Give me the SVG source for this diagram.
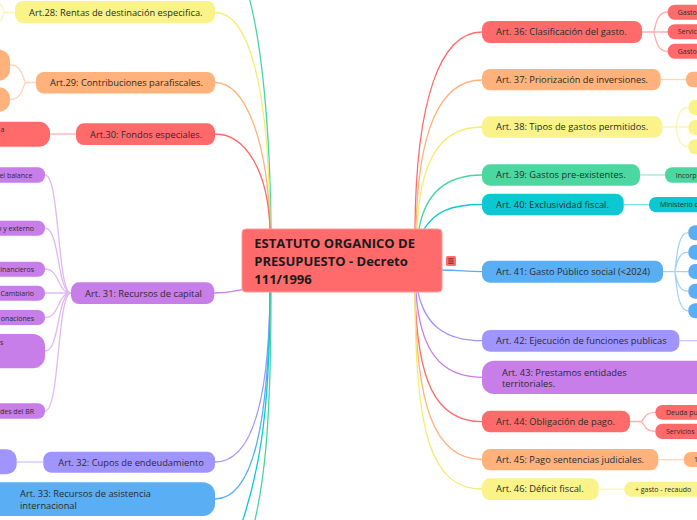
<svg xmlns="http://www.w3.org/2000/svg" width="697" height="520" viewBox="0 0 697 520">
<style>
.t{font-family:"Open Sans","Noto Sans","Liberation Sans",sans-serif;font-size:9.3px;fill:#2b2b2b}
.s{font-family:"Open Sans","Noto Sans","Liberation Sans",sans-serif;font-size:7px;fill:#2b2b2b}
.h{font-family:"Open Sans","Noto Sans","Liberation Sans",sans-serif;font-size:13px;font-weight:bold;fill:#1a1a1a}
.c{fill:none;stroke-width:1.3}
.sc{fill:none;stroke-width:1.3;stroke-opacity:0.55}
.red{fill:#ff6b6b}.ora{fill:#ffb27b}.yel{fill:#f9f38a}.grn{fill:#4bd8a0}.tea{fill:#0cc8d2}.blu{fill:#5aaef3}.vio{fill:#a095ff}.pur{fill:#c77ee8}
.kred{stroke:#ff6b6b}.kora{stroke:#ffb27b}.kyel{stroke:#f5ec74}.kgrn{stroke:#45d6a0}.ktea{stroke:#0cc8d2}.kblu{stroke:#5aaef3}.kvio{stroke:#a095ff}.kpur{stroke:#c77ee8}
</style>
<rect width="697" height="520" fill="#ffffff"/>
<g id="connectors">
  <!-- center to left top -->
  <path class="c kgrn" d="M271,229 C270,130 262,40 247,-10"/>
  <path class="c kyel" d="M215,12.5 C250,12.5 269,90 270,229"/>
  <path class="c kora" d="M215,82.5 C245,82.5 268,140 270,229"/>
  <path class="c kred" d="M215,134 C245,134 268,170 270,229"/>
  <path class="c kpur" d="M214,293 C240,293 255,285 275,280"/>
  <!-- center to left bottom -->
  <path class="c kvio" d="M270,292 C269,400 252,462 215,462"/>
  <path class="c kblu" d="M270,292 C269,420 254,499 215,499"/>
  <path class="c ktea" d="M270,292 C270,420 258,480 236,540"/>
  <path class="c kgrn" d="M271,292 C271,430 264,490 250,540"/>
  <!-- center to right top -->
  <path class="c kred" d="M415,229 C416,100 440,32 482,32"/>
  <path class="c kora" d="M416,229 C418,130 440,80 482,80"/>
  <path class="c kyel" d="M417,229 C420,160 440,127 482,127"/>
  <path class="c kgrn" d="M419,229 C425,195 445,175 482,175"/>
  <path class="c ktea" d="M424,229 C435,212 450,204.5 482,204.5"/>
  <path class="c kblu" d="M440,270 C460,270 465,271.7 482,271.7"/>
  <!-- center to right bottom -->
  <path class="c kvio" d="M418,292 C425,325 445,340.7 482,340.7"/>
  <path class="c kpur" d="M416,292 C420,350 440,377.3 482,377.3"/>
  <path class="c kred" d="M415,292 C417,380 435,421.7 482,421.7"/>
  <path class="c kora" d="M415,292 C416,400 432,459.5 482,459.5"/>
  <path class="c kyel" d="M415,292 C415,430 430,489 482,489"/>
  <!-- left sub connectors -->
  <path class="sc kyel" d="M15,12.5 L5,12.5 M5,12.5 C3,12.5 3,3 -3,2 M5,12.5 C3,12.5 3,22 -3,23"/>
  <path class="sc kora" d="M36,82.5 L26,82.5 M26,82.5 C23,82.5 24,65 10,65 M26,82.5 C23,82.5 24,99.5 10,99.5"/>
  <path class="sc kred" d="M50,134 L76,134"/>
  <path class="sc kpur" d="M71,293 C57,293 60,175 45,175 M71,293 C57,293 60,228 45,228 M71,293 C57,293 60,269 45,269 M71,293 L45,293 M71,293 C57,293 60,317.5 45,317.5 M71,293 C57,293 60,351 45,351 M71,293 C57,293 60,411 45,411"/>
  <path class="sc kvio" d="M17,462 L43,462"/>
  <!-- right sub connectors -->
  <path class="sc kred" d="M642,32 L668,32 M653,32 C656,32 654,12 668,12 M653,32 C656,32 654,51.4 668,51.4"/>
  <path class="sc kora" d="M660.7,79.5 L686,79.5"/>
  <path class="sc kyel" d="M662.3,127 L688.3,127 M675,127 C678,127 676,107.5 688.3,107.5 M675,127 C678,127 676,146.8 688.3,146.8"/>
  <path class="sc kgrn" d="M640,175 L665,175"/>
  <path class="sc ktea" d="M623.7,204.6 L649,204.6"/>
  <path class="sc kblu" d="M663,271.7 L688.3,271.7 M674,271.7 C677,271.7 675,232.7 688.3,232.7 M674,271.7 C677,271.7 675,252.2 688.3,252.2 M674,271.7 C677,271.7 675,291.2 688.3,291.2 M674,271.7 C677,271.7 675,310.8 688.3,310.8"/>
  <path class="sc kvio" d="M679.3,340.7 L697,340.7"/>
  <path class="sc kred" d="M630,421.5 L641,421.5 M641,421.5 C644,421.5 643,412.3 655.3,412.3 M641,421.5 C644,421.5 643,431.3 655.3,431.3"/>
  <path class="sc kora" d="M658.3,459.7 L683.7,459.7"/>
  <path class="sc kyel" d="M598.7,489.2 L624.3,489.2"/>
</g>

<g id="center">
  <rect x="242" y="229" width="200" height="63" rx="4" fill="#ff6b6b" stroke="#ff9a9a" stroke-width="1"/>
  <text class="h" x="254.3" y="248.3">ESTATUTO ORGANICO DE</text>
  <text class="h" x="254.3" y="266.2">PRESUPUESTO - Decreto</text>
  <text class="h" x="254.3" y="284.2">111/1996</text>
</g>
<g id="center-icon">
  <rect x="446" y="256" width="10" height="10" rx="1.5" fill="#ff6b6b"/>
  <path d="M448.3,258.8 H453.7 M448.3,261 H453.7 M448.3,263.2 H453.7" stroke="#5a1a1a" stroke-width="0.9"/>
</g>

<!-- left nodes -->
<g id="n28"><rect class="yel" x="15" y="1" width="200" height="22" rx="8"/><text class="t" x="29" y="15.5">Art.28: Rentas de destinación especifica.</text></g>
<g id="n29"><rect class="ora" x="36" y="72" width="179" height="21.5" rx="8"/><text class="t" x="50" y="86">Art.29: Contribuciones parafiscales.</text></g>
<g id="n29a"><rect class="ora" x="-30" y="49.3" width="40" height="31.7" rx="12"/></g>
<g id="n29b"><rect class="ora" x="-30" y="87.3" width="40" height="24.4" rx="11"/></g>
<g id="n30"><rect class="red" x="76" y="123.3" width="139" height="21.7" rx="8"/><text class="t" x="90" y="137.5">Art.30: Fondos especiales.</text></g>
<g id="n30a"><rect class="red" x="-60" y="121.7" width="110" height="25" rx="11"/><text class="s" x="0.5" y="131.7">a</text></g>
<g id="n31"><rect class="pur" x="71" y="282.3" width="143.3" height="21.7" rx="8"/><text class="t" x="85" y="296.5">Art. 31: Recursos de capital</text></g>
<g id="n31a"><rect class="pur" x="-40" y="167.3" width="85" height="15.4" rx="7"/><text class="s" x="32.3" y="177.6" text-anchor="end">el balance</text></g>
<g id="n31b"><rect class="pur" x="-40" y="220.7" width="85" height="15" rx="7"/><text class="s" x="34" y="231" text-anchor="end">o y externo</text></g>
<g id="n31c"><rect class="pur" x="-40" y="261.7" width="85" height="15" rx="7"/><text class="s" x="34" y="271.7" text-anchor="end">inancieros</text></g>
<g id="n31d"><rect class="pur" x="-40" y="285.7" width="85" height="15" rx="7"/><text class="s" x="34" y="295.7" text-anchor="end">Cambiario</text></g>
<g id="n31e"><rect class="pur" x="-40" y="310" width="85" height="15" rx="7"/><text class="s" x="34" y="320.5" text-anchor="end">onaciones</text></g>
<g id="n31f"><rect class="pur" x="-60" y="334" width="105" height="34.3" rx="12"/><text class="s" x="0" y="345">s</text></g>
<g id="n31g"><rect class="pur" x="-40" y="403.3" width="85" height="15.4" rx="7"/><text class="s" x="34" y="414" text-anchor="end">des del BR</text></g>
<g id="n32"><rect class="vio" x="43.3" y="451.7" width="171.7" height="21" rx="8"/><text class="t" x="58.3" y="465.5">Art. 32: Cupos de endeudamiento</text></g>
<g id="n32a"><rect class="vio" x="-30" y="449.3" width="46.7" height="25" rx="10"/></g>
<g id="n33"><rect class="blu" x="-20" y="482.3" width="235" height="33.7" rx="12"/><text class="t" x="20" y="496.6">Art. 33: Recursos de asistencia</text><text class="t" x="20" y="508.6">internacional</text></g>

<!-- right nodes -->
<g id="n36"><rect class="red" x="482" y="21" width="160" height="22" rx="8"/><text class="t" x="496" y="35.3">Art. 36: Clasificación del gasto.</text></g>
<g id="n36a"><rect class="red" x="667.7" y="4.7" width="60" height="15" rx="7"/><text class="s" x="677.7" y="14.8">Gasto</text></g>
<g id="n36b"><rect class="red" x="667.7" y="24.3" width="60" height="15" rx="7"/><text class="s" x="677.7" y="34.4">Servic</text></g>
<g id="n36c"><rect class="red" x="667.7" y="43.7" width="60" height="15" rx="7"/><text class="s" x="677.7" y="53.8">Gasto</text></g>
<g id="n37"><rect class="ora" x="482" y="69" width="178.7" height="21.3" rx="8"/><text class="t" x="496" y="83">Art. 37: Priorización de inversiones.</text></g>
<g id="n37a"><rect class="ora" x="686" y="71.7" width="40" height="15.6" rx="7"/></g>
<g id="n38"><rect class="yel" x="482" y="116.3" width="180.3" height="21.4" rx="8"/><text class="t" x="496" y="130.3">Art. 38: Tipos de gastos permitidos.</text></g>
<g id="n38a"><rect class="yel" x="688.3" y="100" width="40" height="15" rx="7"/></g>
<g id="n38b"><rect class="yel" x="688.3" y="120" width="40" height="15" rx="7"/></g>
<g id="n38c"><rect class="yel" x="688.3" y="139.3" width="40" height="15" rx="7"/></g>
<g id="n39"><rect class="grn" x="482" y="164.3" width="158" height="21.4" rx="8"/><text class="t" x="496" y="178.3">Art. 39: Gastos pre-existentes.</text></g>
<g id="n39a"><rect class="grn" x="665" y="167.3" width="60" height="15.4" rx="7"/><text class="s" x="675.7" y="177.6">Incorp</text></g>
<g id="n40"><rect class="tea" x="482" y="193.7" width="141.7" height="21.6" rx="8"/><text class="t" x="496" y="207.8">Art. 40: Exclusividad fiscal.</text></g>
<g id="n40a"><rect class="tea" x="649" y="197" width="70" height="15.3" rx="7"/><text class="s" x="660" y="207.2">Ministerio d</text></g>
<g id="n41"><rect class="blu" x="482" y="260.7" width="181" height="22" rx="8"/><text class="t" x="496" y="275">Art. 41: Gasto Público social (&lt;2024)</text></g>
<g id="n41a"><rect class="blu" x="688.3" y="225.3" width="40" height="15" rx="7"/></g>
<g id="n41b"><rect class="blu" x="688.3" y="244.7" width="40" height="15" rx="7"/></g>
<g id="n41c"><rect class="blu" x="688.3" y="264" width="40" height="15" rx="7"/></g>
<g id="n41d"><rect class="blu" x="688.3" y="283.7" width="40" height="15" rx="7"/></g>
<g id="n41e"><rect class="blu" x="688.3" y="303.3" width="40" height="15" rx="7"/></g>
<g id="n42"><rect class="vio" x="482" y="330" width="197.3" height="21.7" rx="8"/><text class="t" x="496" y="344.2">Art. 42: Ejecución de funciones publicas</text></g>
<g id="n43"><rect class="pur" x="482" y="360.7" width="230" height="33.3" rx="12"/><text class="t" x="502" y="375.5">Art. 43: Prestamos entidades</text><text class="t" x="502" y="387.3">territoriales.</text></g>
<g id="n44"><rect class="red" x="482" y="410.7" width="148" height="21.6" rx="8"/><text class="t" x="496" y="424.8">Art. 44: Obligación de pago.</text></g>
<g id="n44a"><rect class="red" x="655.3" y="405" width="60" height="14.7" rx="7"/><text class="s" x="666" y="414.9">Deuda pu</text></g>
<g id="n44b"><rect class="red" x="655.3" y="423.7" width="60" height="15.3" rx="7"/><text class="s" x="666" y="433.9">Servicios</text></g>
<g id="n45"><rect class="ora" x="482" y="449" width="176.3" height="21.3" rx="8"/><text class="t" x="496" y="463">Art. 45: Pago sentencias judiciales.</text></g>
<g id="n45a"><rect class="ora" x="683.7" y="452" width="40" height="15" rx="7"/><text class="s" x="694" y="462.1">1</text></g>
<g id="n46"><rect class="yel" x="482" y="478.3" width="116.7" height="21.7" rx="8"/><text class="t" x="496" y="492.4">Art. 46: Déficit fiscal.</text></g>
<g id="n46a"><rect class="yel" x="624.3" y="481.7" width="80" height="15" rx="7"/><text class="s" x="635" y="491.9">+ gasto - recaudo</text></g>
</svg>
